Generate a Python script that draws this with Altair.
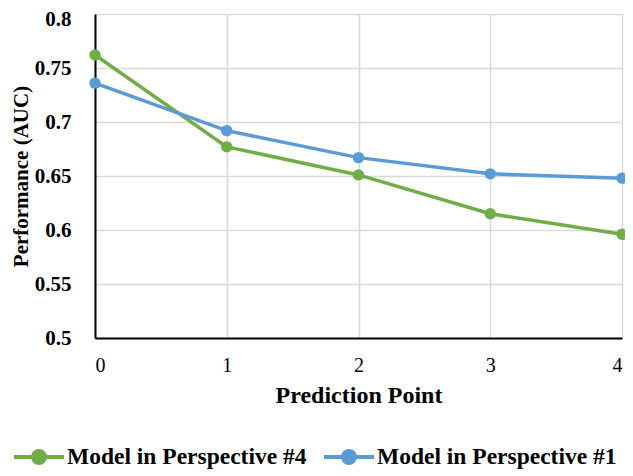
import altair as alt
import pandas as pd

points = [0, 1, 2, 3, 4]
series_names = ["Model in Perspective #4", "Model in Perspective #1"]
perspective4 = [0.762, 0.677, 0.651, 0.615, 0.596]
perspective1 = [0.736, 0.692, 0.667, 0.652, 0.648]
colors = ["#70AD47", "#5B9BD5"]
y_ticks = [0.5, 0.55, 0.6, 0.65, 0.7, 0.75, 0.8]

rows = []
for p, v in zip(points, perspective4):
    rows.append({"point": p, "auc": v, "series": series_names[0]})
for p, v in zip(points, perspective1):
    rows.append({"point": p, "auc": v, "series": series_names[1]})
df = pd.DataFrame(rows)

FONT = "Liberation Serif"
legend_symbol = "M-1,0H-0.24A0.24,0.24 0 1,1 0.24,0A0.24,0.24 0 1,1 -0.24,0M0.24,0H1"

base = alt.Chart(df).encode(
    x=alt.X("point:Q", scale=alt.Scale(domain=[0, 4], nice=False),
            axis=alt.Axis(title="Prediction Point", values=points, format="d",
                          labelFontSize=20, labelFontWeight="normal",
                          titleFontSize=24, titlePadding=8, labelPadding=17)),
    y=alt.Y("auc:Q", scale=alt.Scale(domain=[0.5, 0.8], nice=False, zero=False),
            axis=alt.Axis(title="Performance (AUC)", values=y_ticks,
                          format=".2~f", labelFontSize=21, titleFontSize=21,
                          labelPadding=24, titlePadding=3,
                          labelOffset={"condition": {"test": "datum.value >= 0.79", "value": 5}, "value": 0})),
    color=alt.Color("series:N", scale=alt.Scale(domain=series_names, range=colors),
                    legend=alt.Legend(title=None, orient="none", direction="horizontal",
                                      legendX=-83, legendY=416,
                                      symbolType=legend_symbol, symbolSize=2500,
                                      symbolStrokeWidth=4, labelFontSize=23.5,
                                      labelFont=FONT, labelFontWeight="bold",
                                      labelColor="#000000", labelLimit=400,
                                      columnPadding=9, labelOffset=1)),
)

lines = base.mark_line(strokeWidth=3.5)
pts = base.mark_circle(size=130, opacity=1)

chart = (lines + pts).properties(
    width=527, height=324,
    background="#FFFFFF",
    autosize=alt.AutoSizeParams(type="none"),
    padding={"left": 87, "top": 6, "right": 3, "bottom": 132},
).configure_axis(
    labelFont=FONT, titleFont=FONT, labelFontWeight="bold", titleFontWeight="bold",
    labelColor="#000000", titleColor="#000000",
    gridColor="#D9D9D9", gridWidth=1.5, ticks=False, grid=True,
    domainColor="#000000", domainWidth=2,
).configure_view(
    stroke=None
)

chart.save("out.html", embed_options={"renderer": "svg", "actions": False})
